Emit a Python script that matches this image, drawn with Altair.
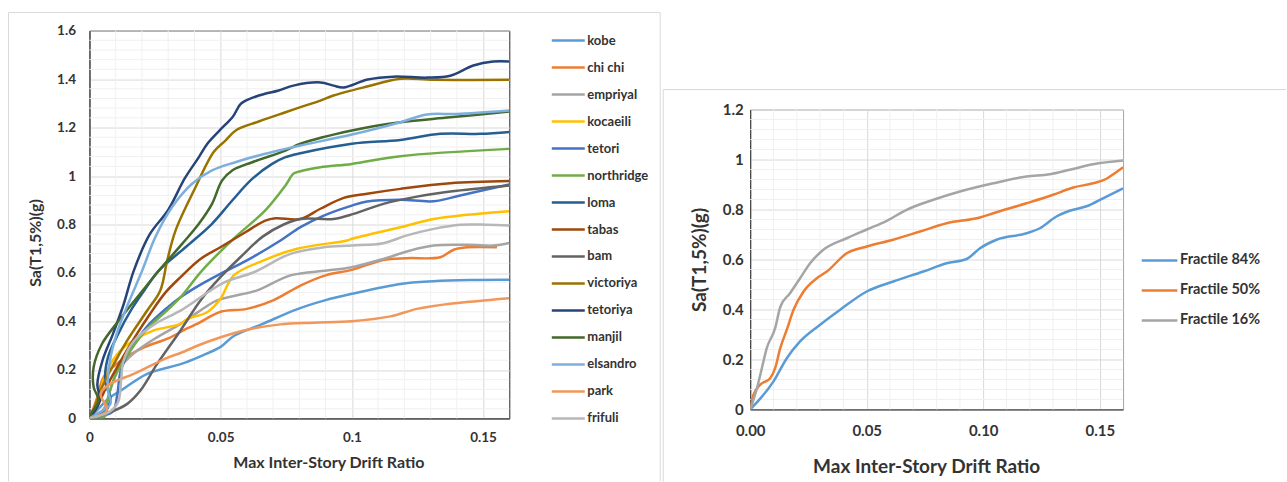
import altair as alt
import pandas as pd

FONT = "Lato"
TXT = "#333333"

# ---------------- left panel: IDA curves ----------------
names = ["kobe", "chi chi", "empriyal", "kocaeili", "tetori", "northridge", "loma",
         "tabas", "bam", "victoriya", "tetoriya", "manjil", "elsandro", "park", "frifuli"]
colors = ["#5B9BD5", "#ED7D31", "#A5A5A5", "#FFC000", "#4472C4", "#70AD47", "#255E91",
          "#9E480E", "#636363", "#997300", "#264478", "#43682B", "#7CAFDD", "#F1975A", "#B7B7B7"]

kobe_x = [0, 0.004, 0.008, 0.012, 0.022, 0.035, 0.042, 0.05, 0.055, 0.066, 0.079, 0.09, 0.1, 0.1185, 0.131, 0.145, 0.16]
kobe_y = [0, 0.047, 0.088, 0.115, 0.184, 0.225, 0.255, 0.295, 0.34, 0.39, 0.45, 0.488, 0.514, 0.555, 0.566, 0.571, 0.572]

chichi_x = [0, 0.003, 0.0054, 0.012, 0.021, 0.03, 0.037, 0.041, 0.05, 0.06, 0.07, 0.0804, 0.09, 0.1, 0.112, 0.121, 0.1337, 0.1388, 0.1439, 0.1553]
chichi_y = [0, 0.088, 0.17, 0.239, 0.294, 0.33, 0.37, 0.39, 0.44, 0.452, 0.487, 0.548, 0.59, 0.613, 0.654, 0.661, 0.665, 0.696, 0.706, 0.706]

empriyal_x = [0, 0.003, 0.006, 0.008, 0.011, 0.017, 0.025, 0.0347, 0.0486, 0.055, 0.0639, 0.0766, 0.0905, 0.1, 0.112, 0.1223, 0.1312, 0.1439, 0.154, 0.16]
empriyal_y = [0, 0.01, 0.05, 0.12, 0.2, 0.27, 0.33, 0.39, 0.487, 0.505, 0.528, 0.59, 0.61, 0.624, 0.658, 0.693, 0.713, 0.716, 0.713, 0.724]

kocaeili_x = [0, 0.0016, 0.0042, 0.0067, 0.0118, 0.0169, 0.0245, 0.0347, 0.0372, 0.0448, 0.0499, 0.055, 0.0664, 0.0791, 0.0982, 0.1, 0.1185, 0.1312, 0.1439, 0.16]
kocaeili_y = [0, 0.02, 0.115, 0.198, 0.28, 0.322, 0.363, 0.39, 0.41, 0.438, 0.493, 0.59, 0.652, 0.70, 0.734, 0.741, 0.789, 0.823, 0.84, 0.855]

tetori_x = [0, 0.005, 0.009, 0.0105, 0.012, 0.016, 0.022, 0.03, 0.0347, 0.042, 0.05, 0.06, 0.0728, 0.0804, 0.0893, 0.0994, 0.1058, 0.1185, 0.1312, 0.1413, 0.16]
tetori_y = [0, 0.01, 0.03, 0.09, 0.2, 0.29, 0.38, 0.46, 0.5, 0.55, 0.597, 0.652, 0.734, 0.789, 0.837, 0.876, 0.895, 0.902, 0.896, 0.92, 0.965]

northridge_x = [0, 0.004, 0.006, 0.007, 0.01, 0.015, 0.022, 0.03, 0.0347, 0.0429, 0.0556, 0.067, 0.0747, 0.0778, 0.0804, 0.088, 0.1, 0.1185, 0.16]
northridge_y = [0, 0.0, 0.01, 0.08, 0.18, 0.27, 0.37, 0.45, 0.5, 0.61, 0.748, 0.858, 0.961, 1.01, 1.02, 1.036, 1.05, 1.082, 1.112]

loma_x = [0, 0.006, 0.008, 0.006, 0.007, 0.011, 0.016, 0.021, 0.0264, 0.0366, 0.0467, 0.0544, 0.062, 0.0696, 0.0747, 0.0804, 0.1, 0.1185, 0.1337, 0.149, 0.16]
loma_y = [0, 0.03, 0.08, 0.15, 0.25, 0.35, 0.45, 0.53, 0.61, 0.706, 0.803, 0.899, 0.988, 1.05, 1.078, 1.094, 1.133, 1.149, 1.174, 1.174, 1.182]

tabas_x = [0, 0.003, 0.006, 0.011, 0.017, 0.023, 0.029, 0.0347, 0.0423, 0.0499, 0.0594, 0.067, 0.0709, 0.0804, 0.088, 0.0969, 0.1058, 0.1185, 0.1375, 0.16]
tabas_y = [0, 0.05, 0.12, 0.22, 0.33, 0.43, 0.52, 0.583, 0.658, 0.706, 0.768, 0.816, 0.826, 0.823, 0.865, 0.91, 0.927, 0.947, 0.97, 0.979]

bam_x = [0, 0.0016, 0.008, 0.0144, 0.0194, 0.0258, 0.0347, 0.0423, 0.0499, 0.0575, 0.066, 0.074, 0.0804, 0.093, 0.1007, 0.112, 0.1248, 0.1375, 0.16]
bam_y = [0, 0.005, 0.026, 0.06, 0.115, 0.225, 0.363, 0.487, 0.583, 0.665, 0.75, 0.80, 0.823, 0.823, 0.844, 0.885, 0.915, 0.936, 0.961]

victoriya_x = [0, 0.0016, 0.0042, 0.008, 0.0144, 0.022, 0.027, 0.0296, 0.0328, 0.0398, 0.0474, 0.0518, 0.056, 0.0645, 0.0747, 0.0804, 0.088, 0.093, 0.1058, 0.1185, 0.1312, 0.16]
victoriya_y = [0, 0.033, 0.115, 0.198, 0.322, 0.445, 0.528, 0.65, 0.775, 0.94, 1.10, 1.146, 1.19, 1.225, 1.263, 1.284, 1.311, 1.332, 1.369, 1.401, 1.397, 1.397]

tetoriya_x = [0, 0.002, 0.004, 0.003, 0.005, 0.009, 0.013, 0.0169, 0.023, 0.030, 0.0363, 0.0417, 0.045, 0.0496, 0.0547, 0.0578, 0.0645, 0.0721, 0.0777, 0.088, 0.093, 0.0968, 0.106, 0.1158, 0.1288, 0.1375, 0.1463, 0.1539, 0.16]
tetoriya_y = [0, 0.03, 0.08, 0.14, 0.24, 0.35, 0.47, 0.61, 0.76, 0.86, 0.99, 1.078, 1.134, 1.188, 1.246, 1.299, 1.332, 1.353, 1.373, 1.386, 1.373, 1.365, 1.398, 1.41, 1.406, 1.414, 1.456, 1.472, 1.472]

manjil_x = [0, 0.001, 0.0035, 0.0016, 0.0016, 0.0048, 0.0112, 0.0213, 0.0265, 0.0353, 0.0417, 0.0467, 0.0505, 0.0544, 0.062, 0.0747, 0.0804, 0.1, 0.1185, 0.1375, 0.16]
manjil_y = [0, 0.026, 0.074, 0.129, 0.212, 0.308, 0.404, 0.541, 0.61, 0.72, 0.803, 0.885, 0.981, 1.023, 1.057, 1.105, 1.133, 1.188, 1.222, 1.242, 1.266]

elsandro_x = [0, 0.003, 0.008, 0.007, 0.008, 0.011, 0.015, 0.0201, 0.0251, 0.0315, 0.0391, 0.0467, 0.0556, 0.0645, 0.0747, 0.0804, 0.1, 0.1185, 0.1286, 0.14, 0.16]
elsandro_y = [0, 0.02, 0.06, 0.12, 0.25, 0.37, 0.48, 0.61, 0.748, 0.872, 0.968, 1.023, 1.057, 1.085, 1.112, 1.126, 1.171, 1.222, 1.254, 1.256, 1.27]

park_x = [0, 0.0067, 0.0042, 0.008, 0.0169, 0.0296, 0.0347, 0.0423, 0.05, 0.0601, 0.0728, 0.0854, 0.1, 0.1147, 0.1248, 0.1375, 0.16]
park_y = [0, 0.033, 0.102, 0.143, 0.184, 0.25, 0.27, 0.305, 0.335, 0.366, 0.388, 0.395, 0.401, 0.421, 0.452, 0.473, 0.496]

frifuli_x = [0, 0.008, 0.011, 0.012, 0.013, 0.017, 0.025, 0.0347, 0.0512, 0.0626, 0.0766, 0.0893, 0.1, 0.112, 0.121, 0.1312, 0.1413, 0.1515, 0.16]
frifuli_y = [0, 0.03, 0.07, 0.15, 0.24, 0.32, 0.39, 0.445, 0.56, 0.603, 0.679, 0.706, 0.713, 0.723, 0.755, 0.782, 0.799, 0.799, 0.796]

left_series = [
    ("kobe", kobe_x, kobe_y), ("chi chi", chichi_x, chichi_y), ("empriyal", empriyal_x, empriyal_y),
    ("kocaeili", kocaeili_x, kocaeili_y), ("tetori", tetori_x, tetori_y),
    ("northridge", northridge_x, northridge_y), ("loma", loma_x, loma_y), ("tabas", tabas_x, tabas_y),
    ("bam", bam_x, bam_y), ("victoriya", victoriya_x, victoriya_y), ("tetoriya", tetoriya_x, tetoriya_y),
    ("manjil", manjil_x, manjil_y), ("elsandro", elsandro_x, elsandro_y), ("park", park_x, park_y),
    ("frifuli", frifuli_x, frifuli_y),
]

# ---------------- right panel: fractiles ----------------
frac_names = ["Fractile 84%", "Fractile 50%", "Fractile 16%"]
frac_colors = ["#5B9BD5", "#ED7D31", "#A5A5A5"]

f84_x = [0, 0.01, 0.0157, 0.0214, 0.03, 0.0386, 0.05, 0.0614, 0.0743, 0.0843, 0.0929, 0.0986, 0.1057, 0.1186, 0.1243, 0.1314, 0.1371, 0.145, 0.1514, 0.16]
f84_y = [0, 0.112, 0.205, 0.272, 0.339, 0.399, 0.472, 0.512, 0.552, 0.585, 0.602, 0.645, 0.679, 0.705, 0.725, 0.772, 0.795, 0.815, 0.845, 0.885]

f50_x = [0, 0.0014, 0.0043, 0.0086, 0.0107, 0.0129, 0.0157, 0.0186, 0.0229, 0.0286, 0.0329, 0.0414, 0.05, 0.0614, 0.0729, 0.0843, 0.0986, 0.1043, 0.1186, 0.13, 0.1386, 0.1471, 0.1529, 0.1564, 0.16]
f50_y = [0, 0.059, 0.099, 0.125, 0.165, 0.245, 0.319, 0.399, 0.472, 0.525, 0.552, 0.625, 0.652, 0.679, 0.712, 0.745, 0.768, 0.785, 0.825, 0.859, 0.888, 0.905, 0.923, 0.945, 0.969]

f16_x = [0, 0.0029, 0.005, 0.0071, 0.0107, 0.0129, 0.0171, 0.0214, 0.0257, 0.0314, 0.0414, 0.05, 0.0586, 0.0671, 0.0786, 0.09, 0.1043, 0.1186, 0.1286, 0.1371, 0.1471, 0.16]
f16_y = [0, 0.085, 0.165, 0.245, 0.325, 0.41, 0.465, 0.525, 0.585, 0.639, 0.685, 0.72, 0.755, 0.799, 0.839, 0.872, 0.905, 0.932, 0.941, 0.959, 0.981, 0.996]

right_series = [("Fractile 84%", f84_x, f84_y), ("Fractile 50%", f50_x, f50_y), ("Fractile 16%", f16_x, f16_y)]

# axis tick values
x_ticks = [0, 0.05, 0.1, 0.15]
left_y_ticks = [0, 0.2, 0.4, 0.6, 0.8, 1.0, 1.2, 1.4, 1.6]
right_y_ticks = [0, 0.2, 0.4, 0.6, 0.8, 1.0, 1.2]
minor_x = [round(i * 0.01, 2) for i in range(1, 16) if i % 5 != 0]
left_minor_y = [round(i * 0.04, 2) for i in range(1, 40) if i % 5 != 0]
right_minor_y = [round(i * 0.04, 2) for i in range(1, 30) if i % 5 != 0]


def long_df(series):
    rows = []
    for name, xs, ys in series:
        for i, (a, b) in enumerate(zip(xs, ys)):
            rows.append({"series": name, "i": i, "x": a, "y": b})
    return pd.DataFrame(rows)


def frame_rule(x, x2, y, y2, color="#D9D9D9"):
    return alt.Chart(alt.Data(values=[{}])).mark_rule(color=color, strokeWidth=1).encode(
        x=alt.value(x), x2=alt.value(x2), y=alt.value(y), y2=alt.value(y2))


def make_axis(values, fmt, pad, lsize, title, tsize, tx, ty=None):
    kw = dict(values=values, format=fmt, grid=True, gridColor="#D9D9D9",
              ticks=False, tickSize=0, labelPadding=pad, labelFlush=False,
              labelFont=FONT, labelFontSize=lsize, labelFontWeight="bold", labelColor=TXT,
              domainColor="#262626", title=title,
              titleFont=FONT, titleFontSize=tsize, titleFontWeight="bold", titleColor=TXT,
              titleX=tx, titleAlign="center", titleBaseline="middle")
    if ty is not None:
        kw["titleY"] = ty
    return alt.Axis(**kw)


def panel(df, xdom, ydom, xaxis, yaxis, legend, cnames, ccolors, interp, xs_minor, ys_minor, w, h, frames, view_stroke):
    xsc = alt.Scale(domain=xdom, nice=False, zero=False)
    ysc = alt.Scale(domain=ydom, nice=False, zero=False)
    vx = alt.Chart(pd.DataFrame({"v": xs_minor})).mark_rule(color="#F0F0F0", strokeWidth=1).encode(
        x=alt.X("v:Q", scale=xsc, axis=xaxis, title=xaxis.title),
        y=alt.value(0), y2=alt.value(h))
    hy = alt.Chart(pd.DataFrame({"v": ys_minor})).mark_rule(color="#F0F0F0", strokeWidth=1).encode(
        y=alt.Y("v:Q", scale=ysc, axis=yaxis, title=yaxis.title),
        x=alt.value(0), x2=alt.value(w))
    lines = alt.Chart(df).mark_line(strokeWidth=2.5, interpolate=interp, clip=True).encode(
        x=alt.X("x:Q", scale=xsc, axis=xaxis, title=xaxis.title),
        y=alt.Y("y:Q", scale=ysc, axis=yaxis, title=yaxis.title),
        color=alt.Color("series:N", scale=alt.Scale(domain=cnames, range=ccolors), legend=legend),
        order="i:Q",
    )
    return alt.layer(vx, hy, lines, *frames).properties(
        width=w, height=h, view=alt.ViewBackground(stroke=view_stroke, strokeWidth=1))


# ---------------- left chart ----------------
LW, LH = 420, 388
left = panel(
    long_df(left_series), [0, 0.16], [0, 1.6],
    make_axis(x_ticks, "~g", 12, 13.5, "Max Inter-Story Drift Ratio", 16, 239, 44.5),
    make_axis(left_y_ticks, "~g", 14, 13.5, "Sa(T1,5%)(g)", 16, -53.5, 212),
    alt.Legend(orient="none", legendX=461, legendY=-3.5, title=None,
               symbolType="stroke", symbolSize=1089, symbolStrokeWidth=2.5,
               clipHeight=27, rowPadding=0, padding=0, labelOffset=1,
               labelFont=FONT, labelFontSize=13, labelFontWeight="bold", labelColor=TXT),
    names, colors, "catmull-rom", minor_x, left_minor_y, LW, LH,
    [frame_rule(-81, 571, -18, -18), frame_rule(-81, -81, -18, 451), frame_rule(571, 571, -18, 451)],
    "#262626",
)

# ---------------- right chart ----------------
RW, RH = 373, 300
right = panel(
    long_df(right_series), [0, 0.16], [0, 1.2],
    make_axis(x_ticks, ".2f", 14, 15, "Max Inter-Story Drift Ratio", 19, 176, 57.5),
    make_axis(right_y_ticks, "~g", 7, 15, "Sa(T1,5%)(g)", 19, -51),
    alt.Legend(orient="none", legendX=390, legendY=215, title=None,
               symbolType="stroke", symbolSize=1267, symbolStrokeWidth=2.5,
               clipHeight=30, rowPadding=0, padding=0, labelOffset=1,
               labelFont=FONT, labelFontSize=14.5, labelFontWeight="bold", labelColor=TXT),
    frac_names, frac_colors, "monotone", minor_x, right_minor_y, RW, RH,
    [frame_rule(-87, 536, -20, -20), frame_rule(-87, -87, -20, 373)],
    "#A6A6A6",
)

# invisible spacer that pushes the right panel down
spacer = alt.Chart(alt.Data(values=[{}])).mark_rule(color="#FFFFFF", strokeWidth=1).encode(
    x=alt.value(0.5), y=alt.value(0), y2=alt.value(57)
).properties(width=1, height=57, view=alt.ViewBackground(stroke=None))

right_col = alt.vconcat(spacer, right, spacing=0)

chart = alt.hconcat(left, right_col, spacing=1).resolve_scale(color="independent").properties(
    padding={"left": 7.5, "top": 11.5, "right": 0, "bottom": 0},
    background="#FFFFFF",
).configure_view(stroke=None)

chart.save("out.html", embed_options={"renderer": "svg", "actions": False})
